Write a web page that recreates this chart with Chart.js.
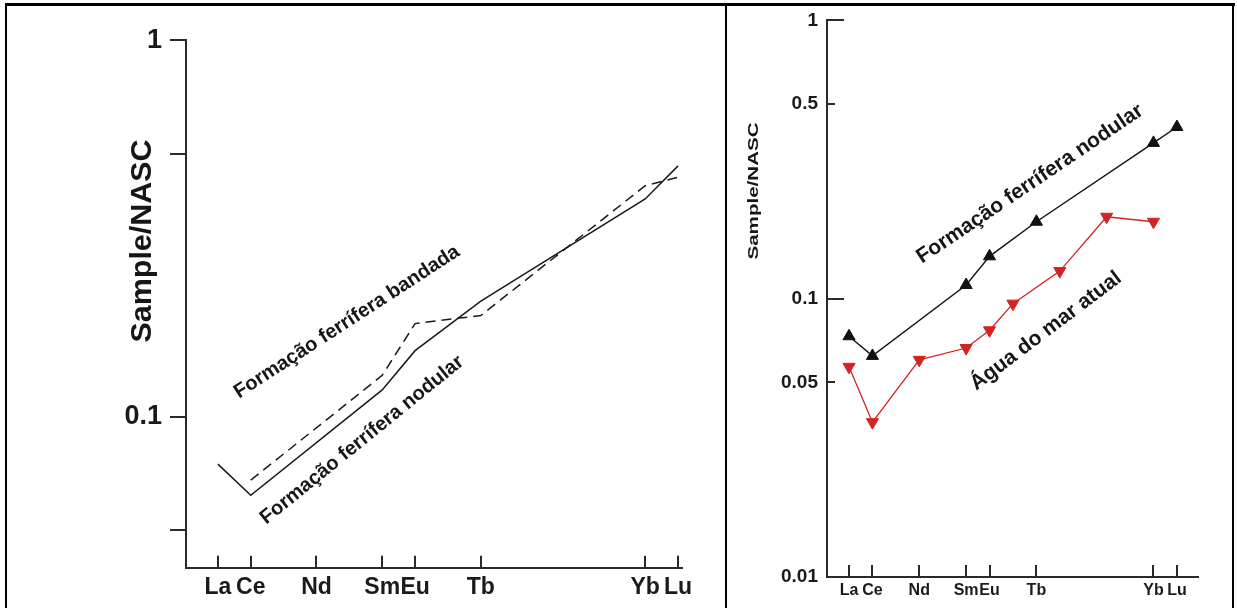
<!DOCTYPE html>
<html>
<head>
<meta charset="utf-8">
<script src="https://cdn.jsdelivr.net/npm/chart.js@4.4.1/dist/chart.umd.min.js"></script>
<style>
  body { margin: 0; background: #fff; width: 1237px; height: 608px; overflow: hidden; position: relative; }
  canvas { position: absolute; top: 0; }
  #leftChart { left: 0; }
  #rightChart { left: 726px; }
  .frame { position: absolute; background: #000; z-index: 2; }
</style>
</head>
<body>
<canvas id="leftChart" width="726" height="608"></canvas>
<canvas id="rightChart" width="511" height="608"></canvas>
<div class="frame" style="left:5px;top:3px;width:1230px;height:3px"></div>
<div class="frame" style="left:5px;top:3px;width:2px;height:605px"></div>
<div class="frame" style="left:725px;top:3px;width:2px;height:605px"></div>
<div class="frame" style="left:1232px;top:3px;width:2px;height:605px"></div>
<script>
// REE sequence, position on the x axis = index
const elements = ["La", "Ce", "Pr", "Nd", "Pm", "Sm", "Eu", "Gd", "Tb", "Dy", "Ho", "Er", "Tm", "Yb", "Lu"];
const tickElements = ["La", "Ce", "Nd", "Sm", "Eu", "Tb", "Yb", "Lu"];

// left panel
const nodularLeftElements = ["La", "Ce", "Sm", "Eu", "Tb", "Yb", "Lu"];
const nodularLeftValues = [0.075, 0.062, 0.118, 0.150, 0.203, 0.379, 0.464];
const bandadaElements = ["Ce", "Sm", "Eu", "Tb", "Yb", "Lu"];
const bandadaValues = [0.068, 0.129, 0.177, 0.186, 0.411, 0.433];
const leftYTicks = [1, 0.5, 0.1, 0.05];
const leftYLabels = ["1", "", "0.1", ""];

// right panel
const nodularRightElements = ["La", "Ce", "Sm", "Eu", "Tb", "Yb", "Lu"];
const nodularRightValues = [0.0733, 0.0623, 0.112, 0.142, 0.189, 0.363, 0.414];
const seawaterElements = ["La", "Ce", "Nd", "Sm", "Eu", "Gd", "Dy", "Er", "Yb"];
const seawaterValues = [0.0569, 0.036, 0.0603, 0.0665, 0.077, 0.096, 0.1257, 0.197, 0.189];
const rightYTicks = [1, 0.5, 0.1, 0.05, 0.01];
const rightYLabels = ["1", "0.5", "0.1", "0.05", "0.01"];

const FONT = '"Liberation Sans", Arial, sans-serif';

function points(els, vals) {
  return els.map((e, i) => ({ x: elements.indexOf(e), y: vals[i] }));
}

// tick marks drawn on the library's scales
const tickMarks = {
  id: "tickMarks",
  afterDraw(chart, args, opts) {
    const ctx = chart.ctx;
    const xs = chart.scales.x, ys = chart.scales.y;
    ctx.save();
    ctx.strokeStyle = opts.color;
    ctx.lineWidth = 2;
    ctx.beginPath();
    opts.yMarks.forEach(m => {
      const py = Math.round(ys.getPixelForValue(m[0]));
      ctx.moveTo(ys.right, py);
      ctx.lineTo(ys.right + m[1], py);
    });
    tickElements.forEach(e => {
      const px = Math.round(xs.getPixelForValue(elements.indexOf(e)));
      ctx.moveTo(px, xs.top);
      ctx.lineTo(px, xs.top - opts.xLen);
    });
    ctx.stroke();
    ctx.restore();
  }
};

const freeText = {
  id: "freeText",
  afterDraw(chart, args, opts) {
    const ctx = chart.ctx;
    opts.items.forEach(t => {
      ctx.save();
      ctx.translate(t.x, t.y);
      ctx.rotate(t.angle * Math.PI / 180);
      ctx.scale(t.sx || 1, 1);
      ctx.font = t.font;
      ctx.fillStyle = "#161616";
      ctx.textAlign = "center";
      ctx.textBaseline = "middle";
      ctx.fillText(t.text, 0, 0);
      ctx.restore();
    });
  }
};

function xScale(min, max, height, size, pad) {
  return {
    type: "linear", min: min, max: max,
    afterFit: s => { s.height = height; },
    afterBuildTicks: s => { s.ticks = tickElements.map(e => ({ value: elements.indexOf(e) })); },
    grid: { display: false, drawTicks: false },
    border: { display: true, color: "#2a2a2a", width: 2 },
    ticks: {
      autoSkip: false, maxRotation: 0, minRotation: 0, padding: pad, color: "#1a1a1a",
      font: { family: FONT, size: size, weight: "bold" },
      callback: v => elements[v]
    }
  };
}

function yScale(min, max, width, vals, labels, size, pad) {
  return {
    type: "logarithmic", min: min, max: max,
    afterFit: s => { s.width = width; },
    afterBuildTicks: s => { s.ticks = vals.map(v => ({ value: v })); },
    grid: { display: false, drawTicks: false },
    border: { display: true, color: "#2a2a2a", width: 2 },
    ticks: {
      autoSkip: false, padding: pad, color: "#1a1a1a",
      font: { family: FONT, size: size, weight: "bold" },
      callback: v => labels[vals.indexOf(v)]
    }
  };
}

new Chart(document.getElementById("leftChart"), {
  type: "line",
  data: {
    datasets: [
      {
        label: "Formação ferrífera nodular",
        data: points(nodularLeftElements, nodularLeftValues),
        borderColor: "#1a1a1a", borderWidth: 1.5, pointRadius: 0, tension: 0
      },
      {
        label: "Formação ferrífera bandada",
        data: points(bandadaElements, bandadaValues),
        borderColor: "#1a1a1a", borderWidth: 1.5, borderDash: [10, 6], pointRadius: 0, tension: 0
      }
    ]
  },
  options: {
    responsive: false,
    animation: false,
    layout: { padding: { left: 0, top: 20, right: 44, bottom: 0 } },
    scales: {
      x: xScale(-0.97, 14.12, 33, 23, 6),
      y: yScale(0.0398, 1, 186, leftYTicks, leftYLabels, 27, 24)
    },
    plugins: {
      legend: { display: false },
      tooltip: { enabled: false },
      tickMarks: { color: "#2a2a2a", xLen: 12, yMarks: [[1, -16], [0.5, -16], [0.1, -16], [0.05, -16]] },
      freeText: {
        items: [
          { text: "Sample/NASC", x: 143, y: 241, angle: -90, font: "bold 29px " + FONT, sx: 1.05 },
          { text: "Formação ferrífera bandada", x: 347, y: 322, angle: -33, font: "bold 20px " + FONT },
          { text: "Formação ferrífera nodular", x: 362, y: 440, angle: -39, font: "bold 20px " + FONT }
        ]
      }
    }
  },
  plugins: [tickMarks, freeText]
});

new Chart(document.getElementById("rightChart"), {
  type: "line",
  data: {
    datasets: [
      {
        label: "Formação ferrífera nodular",
        data: points(nodularRightElements, nodularRightValues),
        borderColor: "#111", borderWidth: 1.4, tension: 0,
        pointStyle: "triangle", pointRadius: 7, pointBackgroundColor: "#111", pointBorderColor: "#111", pointBorderWidth: 1
      },
      {
        label: "Água do mar atual",
        data: points(seawaterElements, seawaterValues),
        borderColor: "#d42323", borderWidth: 1.3, tension: 0,
        pointStyle: "triangle", pointRotation: 180, pointRadius: 7,
        pointBackgroundColor: "#d42323", pointBorderColor: "#d42323", pointBorderWidth: 1
      }
    ]
  },
  options: {
    responsive: false,
    animation: false,
    layout: { padding: { left: 0, top: 14, right: 39, bottom: 0 } },
    scales: {
      x: xScale(-0.94, 14.9, 31, 16, 4),
      y: yScale(0.01, 1, 101, rightYTicks, rightYLabels, 19, 9)
    },
    plugins: {
      legend: { display: false },
      tooltip: { enabled: false },
      tickMarks: { color: "#2a2a2a", xLen: 12, yMarks: [[1, 17], [0.5, 8], [0.1, 17], [0.05, 8]] },
      freeText: {
        items: [
          { text: "Sample/NASC", x: 28, y: 191, angle: -90, font: "bold 15px " + FONT, sx: 1.37 },
          { text: "Formação ferrífera nodular", x: 304, y: 184, angle: -34, font: "bold 21px " + FONT },
          { text: "Água do mar atual", x: 320, y: 331, angle: -37, font: "bold 21px " + FONT }
        ]
      }
    }
  },
  plugins: [tickMarks, freeText]
});
</script>
</body>
</html>
